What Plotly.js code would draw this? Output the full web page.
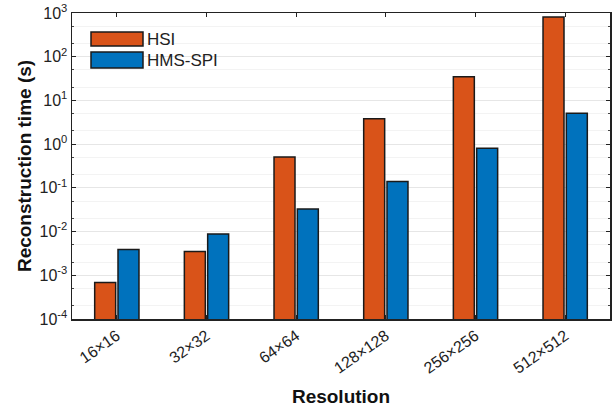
<!DOCTYPE html>
<html><head><meta charset="utf-8">
<script src="https://cdn.plot.ly/plotly-3.0.1.min.js"></script>
<style>html,body{margin:0;padding:0;background:#fff}#c{width:612px;height:410px}</style>
</head><body><div id="c"></div>
<script>
const categories = ["16×16","32×32","64×64","128×128","256×256","512×512"];
const hsi = [0.00068, 0.0035, 0.51, 3.8, 35, 810];
const hmsSpi = [0.0039, 0.0088, 0.033, 0.14, 0.81, 5.1];
const seriesNames = ["HSI","HMS-SPI"];
const yTickVals = [1e-4,1e-3,1e-2,1e-1,1e0,1e1,1e2,1e3];
const yTickText = ["10<sup>-4</sup>","10<sup>-3</sup>","10<sup>-2</sup>","10<sup>-1</sup>","10<sup>0</sup>","10<sup>1</sup>","10<sup>2</sup>","10<sup>3</sup>"];

const colors = ["#D95319","#0072BD"];
const line = {color:"#1a1a1a", width:1.5};
const traces = [
  {type:"bar", x:categories, y:hsi, name:seriesNames[0], marker:{color:colors[0], line:line}},
  {type:"bar", x:categories, y:hmsSpi, name:seriesNames[1], marker:{color:colors[1], line:line}}
];
const font = {family:"Liberation Sans, Arial, sans-serif", color:"#222", size:15};
const layout = {
  width:612, height:410,
  margin:{l:72, r:2, t:13, b:91},
  paper_bgcolor:"#fff", plot_bgcolor:"#fff",
  font:font,
  showlegend:false,
  barmode:"group", bargap:0.48, bargroupgap:0.1,
  xaxis:{
    type:"category", tickangle:-35, ticks:"inside", ticklen:4, tickcolor:"#222",
    showline:true, linecolor:"#222", linewidth:1.5, mirror:"ticks",
    tickfont:{size:16, color:"#222"},
    title:{text:"<b>Resolution</b>", font:{size:19, color:"#111"}, standoff:14},
    automargin:false, range:[-0.5,5.5]
  },
  yaxis:{
    type:"log", range:[-4,3], tickvals:yTickVals, ticktext:yTickText,
    ticks:"inside", ticklen:4, tickcolor:"#222",
    showline:true, linecolor:"#222", linewidth:1.5, mirror:"ticks",
    showgrid:true, gridcolor:"#e6e6e6", gridwidth:1,
    minor:{ticks:"inside", ticklen:2, tickcolor:"#444", showgrid:true, gridcolor:"#f3f3f3"},
    tickfont:{size:16, color:"#222"},
    title:{text:"<b>Reconstruction time (s)</b>", font:{size:19, color:"#111"}, standoff:3},
    automargin:false, zeroline:false
  },
  shapes:[
    {type:"rect", xref:"paper", yref:"paper", x0:(91-72)/538, x1:(143-72)/538, y0:(319-46)/306, y1:(319-32)/306, fillcolor:colors[0], line:line},
    {type:"rect", xref:"paper", yref:"paper", x0:(91-72)/538, x1:(143-72)/538, y0:(319-68)/306, y1:(319-52)/306, fillcolor:colors[1], line:line}
  ],
  annotations:[
    {xref:"paper", yref:"paper", x:(145-72)/538, y:(319-39)/306, xanchor:"left", yanchor:"middle", text:seriesNames[0], showarrow:false, font:{size:17, color:"#222"}},
    {xref:"paper", yref:"paper", x:(145-72)/538, y:(319-60)/306, xanchor:"left", yanchor:"middle", text:seriesNames[1], showarrow:false, font:{size:17, color:"#222"}}
  ]
};
Plotly.newPlot("c", traces, layout, {displayModeBar:false, staticPlot:true});
</script></body></html>
